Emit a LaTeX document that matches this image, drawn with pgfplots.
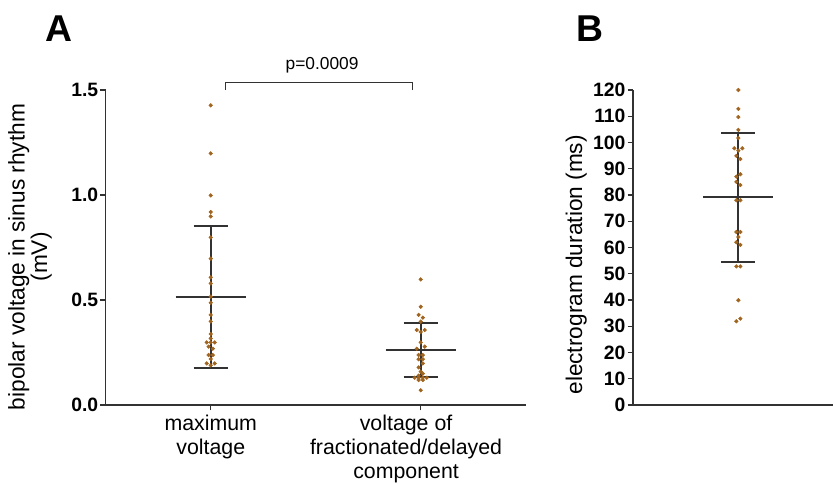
\documentclass[border=0pt]{standalone}
\usepackage{pgfplots}
\pgfplotsset{compat=1.18}
\usepackage{fontspec}
\setmainfont{Liberation Sans}

\definecolor{dotc}{RGB}{160,100,30}
\definecolor{linec}{RGB}{50,50,50}

\pgfplotsset{
  scatterdots/.style={only marks, mark=*, mark size=1.35pt, color=dotc, mark options={draw=none, fill=dotc}},
  bar/.style={linec, line width=1.5pt, mark=none, forget plot},
  panel/.style={
    scale only axis,
    height=236.25pt,
    axis x line*=bottom,
    axis y line*=left,
    axis line style={linec, line width=1.1pt},
    tick style={linec, line width=1.1pt},
    tick align=outside,
    major tick length=4pt,
    clip=false,
    yticklabel style={font=\bfseries\fontsize{14.5}{14.5}\selectfont, inner sep=1.5pt},
    /pgf/number format/assume math mode=true,
  },
}

\begin{document}
\begin{tikzpicture}
\path[use as bounding box] (-79.3pt,-58.5pt) rectangle (546.2pt,303.75pt);

% panel A
\begin{axis}[panel,
  width=315pt,
  xmin=0.5, xmax=2.5,
  ymin=0, ymax=1.5,
  ytick={0,0.5,1,1.5},
  yticklabel={\pgfmathprintnumber[fixed,fixed zerofill,precision=1,assume math mode=true]{\tick}},
  xtick={1},
  xticklabels={{maximum\\voltage}},
  extra x ticks={2},
  extra x tick labels={{voltage of\\fractionated/delayed\\component}},
  extra x tick style={xticklabel style={xshift=-11pt}},
  xticklabel style={align=center, font=\fontsize{16}{18}\selectfont, inner sep=2pt, yshift=-1.5pt},
  ylabel={bipolar voltage in sinus rhythm\\(mV)},
  ylabel style={align=center, font=\fontsize{17}{15}\selectfont, at={(axis description cs:-0.128,0.47)}, anchor=south, inner sep=0pt},
]
% mean and SD, maximum voltage
\addplot[bar] coordinates {(0.833,0.513) (1.167,0.513)};
\addplot[bar] coordinates {(0.919,0.852) (1.081,0.852)};
\addplot[bar] coordinates {(0.919,0.176) (1.081,0.176)};
\addplot[bar] coordinates {(1,0.176) (1,0.852)};
% mean and SD, fractionated component
\addplot[bar] coordinates {(1.833,0.262) (2.167,0.262)};
\addplot[bar] coordinates {(1.919,0.392) (2.081,0.392)};
\addplot[bar] coordinates {(1.919,0.132) (2.081,0.132)};
\addplot[bar] coordinates {(2,0.132) (2,0.392)};

\addplot[scatterdots] coordinates {
(1,1.427) (1,1.198) (1,0.998) (1,0.919) (1,0.898) (1,0.798) (1,0.697)
(1,0.608) (1,0.579) (1,0.516) (1,0.487) (1,0.429) (1,0.398) (1,0.338)
(1,0.317) (0.981,0.298) (1,0.298) (1.019,0.298) (0.990,0.278) (1.010,0.268)
(0.990,0.238) (1.010,0.238) (1,0.219) (0.981,0.198) (1.019,0.198) (1,0.189)
};
\addplot[scatterdots] coordinates {
(2,0.598) (2,0.468) (1.990,0.429) (2.010,0.416) (2,0.397) (1.981,0.357)
(2.019,0.357) (2,0.348) (2,0.298) (2.019,0.278) (1.981,0.268) (1.990,0.238)
(2.010,0.238) (1.990,0.218) (2.010,0.218) (2.010,0.198) (1.990,0.179)
(2,0.159) (2.010,0.149) (1.990,0.140) (1.971,0.130) (1.990,0.130)
(2.010,0.130) (2.029,0.130) (1.990,0.119) (2.010,0.119) (2,0.070)
};

% significance bracket
\draw[linec, line width=1.1pt] (axis cs:1.071,1.5) -- (axis cs:1.071,1.535) -- (axis cs:1.96,1.535) -- (axis cs:1.96,1.5);
\node[anchor=base, font=\fontsize{13}{13}\selectfont, inner sep=0pt] at (axis cs:1.53,1.6) {p=0.0009};
\end{axis}

% panel B
\begin{axis}[panel,
  at={(395.5pt,0pt)},
  width=150pt,
  xmin=0, xmax=1.9,
  ymin=0, ymax=120,
  ytick distance=10,
  xtick=\empty,
  ylabel={electrogram duration (ms)},
  ylabel style={font=\fontsize{17}{15}\selectfont, at={(axis description cs:-0.23,0.445)}, anchor=south, inner sep=0pt},
]
\addplot[bar] coordinates {(0.667,79.2) (1.333,79.2)};
\addplot[bar] coordinates {(0.838,103.7) (1.162,103.7)};
\addplot[bar] coordinates {(0.838,54.5) (1.162,54.5)};
\addplot[bar] coordinates {(1,54.5) (1,103.7)};

\addplot[scatterdots] coordinates {
(1,120) (1,112.8) (1,109.7) (1,104.8) (1,101.7) (0.962,97.8) (1.038,97.8)
(1,96.9) (0.981,94.9) (1.019,93.7) (1.019,87.9) (0.981,87.0) (0.981,85.0)
(1.019,83.8) (0.981,78.0) (1.019,78.0) (0.981,65.9) (1.019,65.9) (1,64.0)
(0.981,62.0) (1.019,61.0) (0.981,52.8) (1.019,52.8) (1,39.9) (1.019,32.9)
(0.981,31.9)
};
\end{axis}

\node[anchor=base west, font=\bfseries\fontsize{28}{28}\selectfont, inner sep=0pt] at (-45.5pt,272.25pt) {A};
\node[anchor=base west, font=\bfseries\fontsize{28}{28}\selectfont, inner sep=0pt] at (352.7pt,272.25pt) {B};
\end{tikzpicture}
\end{document}
